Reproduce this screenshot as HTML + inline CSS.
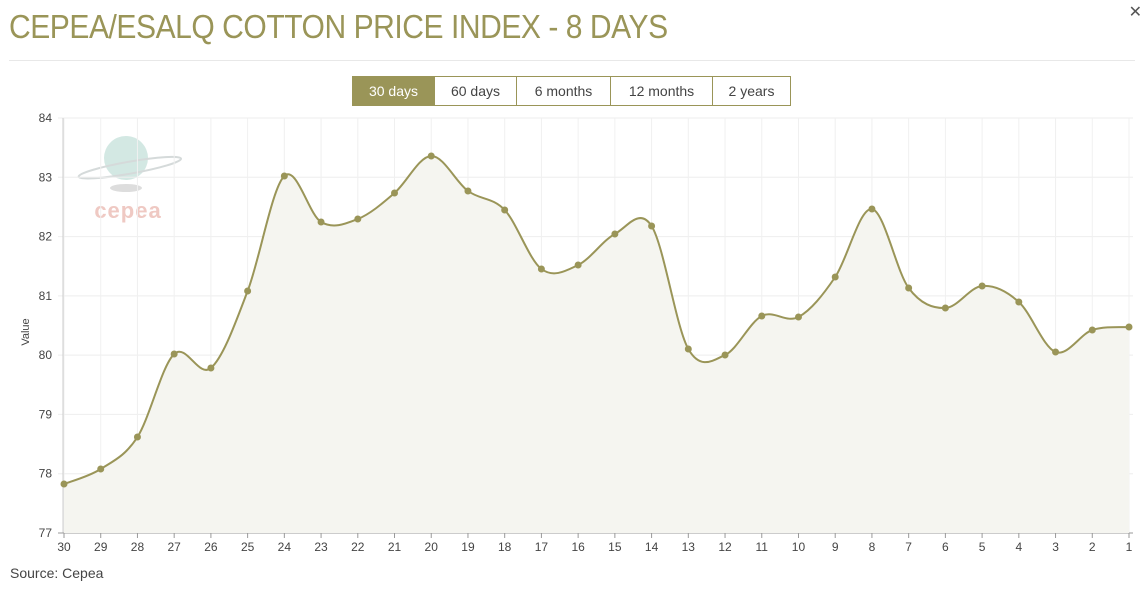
<!DOCTYPE html>
<html><head><meta charset="utf-8"><style>
body{margin:0;width:1144px;height:590px;background:#fff;font-family:"Liberation Sans",sans-serif;overflow:hidden;position:relative}
h1{position:absolute;left:9px;top:8px;margin:0;font-weight:normal;font-size:33px;color:#9a9558;letter-spacing:-0.5px;transform:scaleX(0.91);transform-origin:left}
.hr{position:absolute;left:9px;right:9px;top:60px;border-top:1px solid #e8e8e8}
.x{position:absolute;right:2px;top:2px;font-size:16px;color:#555}
.btns{position:absolute;left:352px;top:76px;display:flex;border:1px solid #9a9558;height:28px}
.btns div{text-align:center;line-height:28px;font-size:14px;color:#444;border-left:1px solid #9a9558;box-sizing:border-box}
.btns div:first-child{background:#9a9558;color:#fff;border-left:none}
.src{position:absolute;left:10px;top:565px;font-size:14px;color:#444}
</style></head><body>
<h1>CEPEA/ESALQ COTTON PRICE INDEX - 8 DAYS</h1>
<div class="x">✕</div>
<div class="hr"></div>
<div class="btns"><div style="width:81px">30 days</div><div style="width:82px">60 days</div><div style="width:94px">6 months</div><div style="width:102px">12 months</div><div style="width:78px">2 years</div></div>
<svg id="s" width="1144" height="590" style="position:absolute;left:0;top:0" font-family="Liberation Sans, sans-serif">
<g transform="translate(126,146)">
<circle cx="0" cy="12" r="22" fill="#d3e8e3"/>
<ellipse cx="0" cy="22" rx="52" ry="6" fill="none" stroke="#d5dada" stroke-width="2" transform="rotate(-10)"/>
<ellipse cx="0" cy="42" rx="16" ry="4" fill="#ddd"/>
<text x="2" y="72" text-anchor="middle" font-size="22" fill="#efc9c3" font-weight="bold" letter-spacing="1">cepea</text>
</g>
<text x="29" y="332" font-size="11" fill="#444" transform="rotate(-90 29 332)" text-anchor="middle">Value</text>
</svg>
<div class="src">Source: Cepea</div>
<script>
var s=document.getElementById('s'),NS='http://www.w3.org/2000/svg';
function el(t,a,txt){var e=document.createElementNS(NS,t);for(var k in a)e.setAttribute(k,a[k]);if(txt!=null)e.textContent=txt;s.appendChild(e);return e;}
var x0=64,dx=(1129-64)/29,yt=118,yb=533;
for(var v=77;v<=84;v++){var y=yb-(v-77)*(yb-yt)/7;el('line',{x1:58,x2:1133,y1:y,y2:y,stroke:'#eee'});el('text',{x:52,y:y+4,'font-size':12,fill:'#444','text-anchor':'end'},v);}
var ys=[484,469,437,354,368,291,176,222,219,193,156,191,210,269,265,234,226,349,355,316,317,277,209,288,308,286,302,352,330,327];
for(var i=0;i<30;i++){var x=x0+i*dx;el('line',{x1:x,x2:x,y1:yt,y2:yb,stroke:'#f0f0f0'});el('line',{x1:x,x2:x,y1:yb,y2:yb+5,stroke:'#999'});el('text',{x:x,y:551,'font-size':12,fill:'#444','text-anchor':'middle'},30-i);}
el('line',{x1:63,x2:63,y1:yt,y2:yb,stroke:'#ccc'});
el('line',{x1:58,x2:1133,y1:yb,y2:yb,stroke:'#999'});
var P=ys.map(function(y,i){return[x0+i*dx,y]});
var d='M'+P[0][0]+','+P[0][1];
for(var i=0;i<29;i++){var p0=P[Math.max(0,i-1)],p1=P[i],p2=P[i+1],p3=P[Math.min(29,i+2)],t=6;
d+=' C'+(p1[0]+(p2[0]-p0[0])/t)+','+(p1[1]+(p2[1]-p0[1])/t)+' '+(p2[0]-(p3[0]-p1[0])/t)+','+(p2[1]-(p3[1]-p1[1])/t)+' '+p2[0]+','+p2[1];}
el('path',{d:d+' L'+P[29][0]+','+yb+' L'+P[0][0]+','+yb+'Z',fill:'#f5f5f0'});
el('path',{d:d,fill:'none',stroke:'#9a9558','stroke-width':2});
P.forEach(function(p){el('circle',{cx:p[0],cy:p[1],r:3.5,fill:'#9a9558'});});
</script>
</body></html>
